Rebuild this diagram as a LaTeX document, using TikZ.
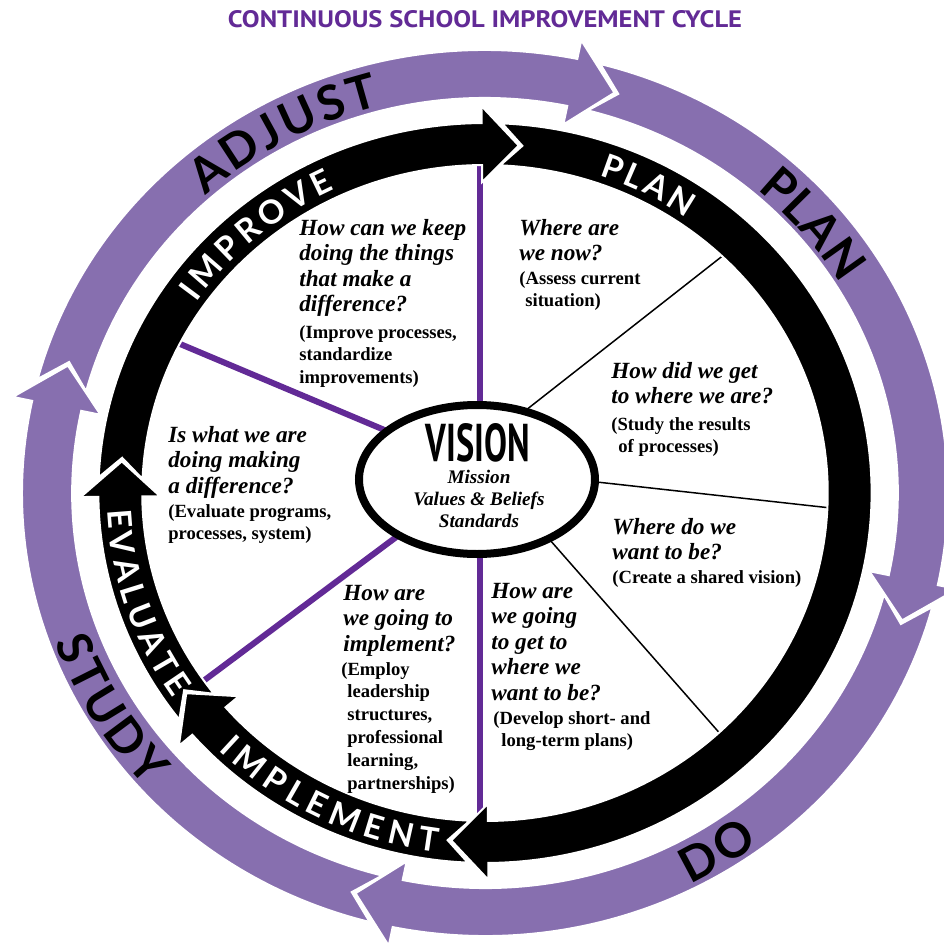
\documentclass[tikz,border=0pt]{standalone}
\usepackage{graphicx}
\usepackage{fontspec}
\setmainfont{Liberation Serif}
\newfontfamily\ringfont{Lato}
\newfontfamily\headfont{PT Sans}
\usetikzlibrary{decorations.text,shapes.geometric}
\definecolor{ringpurple}{RGB}{135,111,175}
\definecolor{deeppurple}{RGB}{98,42,150}
\def\kx{1.045}
% #1 colour, #2 previous head angle, #3 head angle, #4 mid radius, #5 half width, #6 head overhang, #7 head length (deg), #8 gap (deg)
\newcommand\ringseg[8]{%
 \pgfmathsetmacro\rO{#4+#5}\pgfmathsetmacro\rI{#4-#5}%
 \pgfmathsetmacro\rOE{#4+#5+#6}\pgfmathsetmacro\rIE{#4-#5-#6}%
 \pgfmathsetmacro\xO{\kx*\rO}\pgfmathsetmacro\xI{\kx*\rI}%
 \pgfmathsetmacro\xOE{\kx*\rOE}\pgfmathsetmacro\xIE{\kx*\rIE}%
 \pgfmathsetmacro\xM{\kx*#4}%
 \pgfmathsetmacro\aT{#2-#7*#6/(#5+#6)-#8}%
 \pgfmathsetmacro\aA{#2-#7-1.3*#8}%
 \pgfmathsetmacro\aTip{#3-#7}%
 \filldraw[fill=#1, draw=white, line width=1pt, line join=miter]
   ({\xO*cos(\aT)},{\rO*sin(\aT)}) arc[start angle=\aT, end angle=#3, x radius=\xO, y radius=\rO]
   -- ({\xOE*cos(#3)},{\rOE*sin(#3)}) -- ({\xM*cos(\aTip)},{#4*sin(\aTip)})
   -- ({\xIE*cos(#3)},{\rIE*sin(#3)}) -- ({\xI*cos(#3)},{\rI*sin(#3)})
   arc[start angle=#3, end angle=\aT, x radius=\xI, y radius=\rI]
   -- ({\xM*cos(\aA)},{#4*sin(\aA)}) -- cycle;
}
\tikzset{
 qtext/.style={anchor=base west, inner sep=0pt, font=\fontsize{11.6}{12.8}\selectfont\bfseries\itshape},
 ptext/.style={anchor=base west, inner sep=0pt, font=\fontsize{9.3}{11.4}\selectfont\bfseries},
 spoke/.style={draw=deeppurple, line width=3pt},
 thinline/.style={draw=black, line width=0.75pt},
 blacklabel/.style={decorate, decoration={text along path, text align={fit to path}, text color=white,
   text={|\ringfont\bfseries\fontsize{16.5}{16.5}\selectfont|#1}}},
 purplelabel/.style={decorate, decoration={text along path, text align={fit to path}, text color=black,
   text={|\ringfont\bfseries\fontsize{24}{24}\selectfont|#1}}},
}
\begin{document}
\begin{tikzpicture}[x=0.5pt,y=0.5pt]
\useasboundingbox (-485,-451) rectangle (459,493);
\fill[white] (-485,-451) rectangle (459,493);
% spokes
\coordinate (s1a) at (-5,330); \coordinate (s1b) at (-5,80);
\coordinate (s2a) at (-5,-55); \coordinate (s2b) at (-5,-326);
\coordinate (s3a) at (-312,152); \coordinate (s3b) at (-91,59);
\coordinate (s4a) at (-287,-192); \coordinate (s4b) at (-78,-36);
\coordinate (l1a) at (35.5,78.6); \coordinate (l1b) at (240,239);
\coordinate (l2a) at (100,12.3); \coordinate (l2b) at (346,-15);
\coordinate (l3a) at (59.7,-41); \coordinate (l3b) at (238,-244);
\draw[spoke] (s1a) -- (s1b);
\draw[spoke] (s2a) -- (s2b);
\draw[spoke] (s3a) -- (s3b);
\draw[spoke] (s4a) -- (s4b);
\draw[thinline] (l1a) -- (l1b);
\draw[thinline] (l2a) -- (l2b);
\draw[thinline] (l3a) -- (l3b);
% vision oval
\node[ellipse, draw=black, line width=4pt, fill=white, minimum width=118pt, minimum height=74.5pt, inner sep=0pt] (oval) at (-8,13.5) {};
\node[anchor=base, inner sep=0pt] (vis) at (-7,32) {\resizebox{52pt}{19pt}{\headfont\bfseries VISION}};
\node[anchor=base, inner sep=0pt, font=\fontsize{9.6}{11}\selectfont\bfseries\itshape] (mission) at (-6,10)
  {\begin{tabular}[t]{@{}c@{}}Mission\\Values \& Beliefs\\Standards\end{tabular}};
% black ring
\ringseg{black}{90.5}{-89.5}{349}{21}{17}{5.8}{0.45}
\ringseg{black}{-89.5}{-139.2}{349}{21}{17}{5.8}{0.45}
\ringseg{black}{-139.2}{-179.4}{349}{21}{17}{5.8}{0.45}
\ringseg{black}{180.6}{90.5}{349}{21}{17}{5.8}{0.45}
% purple ring
\ringseg{ringpurple}{78.5}{-12}{419}{24}{19}{5.7}{0.4}
\ringseg{ringpurple}{-12}{-101.5}{419}{24}{19}{5.7}{0.4}
\ringseg{ringpurple}{-101.5}{-192}{419}{24}{19}{5.7}{0.4}
\ringseg{ringpurple}{168}{78.5}{419}{24}{19}{5.7}{0.4}
% ring labels
\path[blacklabel=PLAN] (71:351 and 336) arc[start angle=71, end angle=55, x radius=351, y radius=336];
\path[blacklabel=IMPROVE] (145.4:351 and 336) arc[start angle=145.4, end angle=115.3, x radius=351, y radius=336];
\path[blacklabel=EVALUATE] (182.7:378.3 and 362) arc[start angle=182.7, end angle=214.5, x radius=378.3, y radius=362];
\path[blacklabel=IMPLEMENT] (225.3:378.3 and 362) arc[start angle=225.3, end angle=262.7, x radius=378.3, y radius=362];
\path[purplelabel=ADJUST] (132:418 and 400) arc[start angle=132, end angle=104.5, x radius=418, y radius=400];
\path[purplelabel=PLAN] (49.4:418 and 400) arc[start angle=49.4, end angle=31.6, x radius=418, y radius=400];
\path[purplelabel=DO] (-63.3:457.7 and 438) arc[start angle=-63.3, end angle=-53.3, x radius=457.7, y radius=438];
\path[purplelabel=STUDY] (200:457.7 and 438) arc[start angle=200, end angle=222.2, x radius=457.7, y radius=438];
% texts
\node[qtext] (q1) at (-186,258) {\begin{tabular}[t]{@{}l@{}}How can we keep\\doing the things\\that make a\\difference?\end{tabular}};
\node[ptext] (p1) at (-186,155) {\begin{tabular}[t]{@{}l@{}}(Improve processes,\\standardize\\improvements)\end{tabular}};
\node[qtext] (q2) at (34,258) {\begin{tabular}[t]{@{}l@{}}Where are\\we now?\end{tabular}};
\node[ptext] (p2) at (34,209) {\begin{tabular}[t]{@{}l@{}}(Assess current\\\hspace{3pt}situation)\end{tabular}};
\node[qtext] (q3) at (126,115) {\begin{tabular}[t]{@{}l@{}}How did we get\\to where we are?\end{tabular}};
\node[ptext] (p3) at (126,63) {\begin{tabular}[t]{@{}l@{}}(Study the results\\\hspace{3.5pt}of processes)\end{tabular}};
\node[qtext] (q4) at (127,-41) {\begin{tabular}[t]{@{}l@{}}Where do we\\want to be?\end{tabular}};
\node[ptext] (p4) at (127,-90) {(Create a shared vision)};
\node[qtext] (q5) at (6,-105) {\begin{tabular}[t]{@{}l@{}}How are\\we going\\to get to\\where we\\want to be?\end{tabular}};
\node[ptext] (p5) at (8,-231) {\begin{tabular}[t]{@{}l@{}}(Develop short- and\\\hspace{4pt}long-term plans)\end{tabular}};
\node[qtext] (q6) at (-142,-107) {\begin{tabular}[t]{@{}l@{}}How are\\we going to\\implement?\end{tabular}};
\node[ptext] (p6) at (-144,-182) {\begin{tabular}[t]{@{}l@{}}(Employ\\\hspace{3pt}leadership\\\hspace{3pt}structures,\\\hspace{3pt}professional\\\hspace{3pt}learning,\\\hspace{3pt}partnerships)\end{tabular}};
\node[qtext] (q7) at (-317,51) {\begin{tabular}[t]{@{}l@{}}Is what we are\\doing making\\a difference?\end{tabular}};
\node[ptext] (p7) at (-317,-24) {\begin{tabular}[t]{@{}l@{}}(Evaluate programs,\\processes, system)\end{tabular}};
% title
\node[anchor=base, inner sep=0pt, text=deeppurple] (title) at (0,466) {\resizebox{257pt}{8.5pt}{\headfont\bfseries CONTINUOUS SCHOOL IMPROVEMENT CYCLE}};
\end{tikzpicture}
\end{document}
